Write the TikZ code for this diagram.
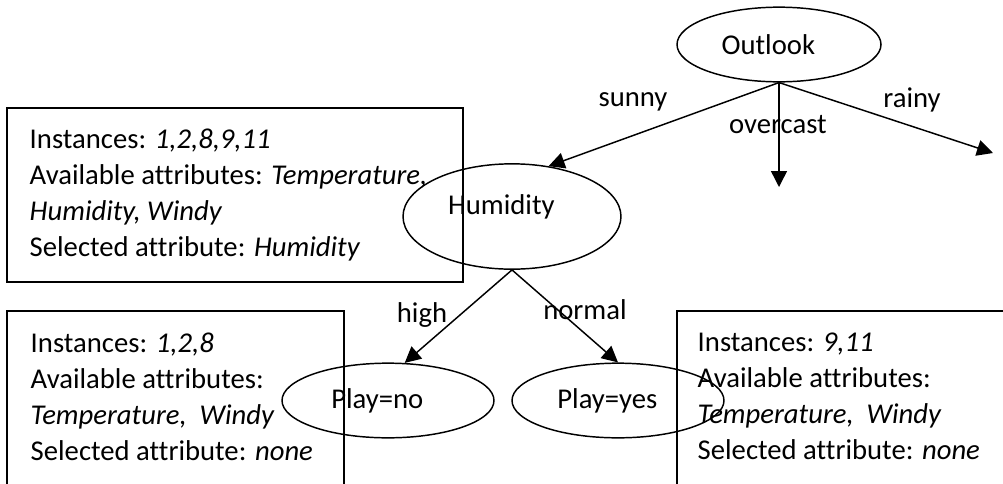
\documentclass[tikz,border=0pt]{standalone}
\usepackage{fontspec}
\setmainfont[Ligatures=NoCommon]{Carlito}
\usetikzlibrary{arrows.meta,shapes.geometric}

\tikzset{every picture/.style={line width=1.1pt},
  tree node/.style={draw,ellipse,inner sep=0pt,font=\fontsize{21.5}{27}\selectfont,
    execute at end node={\hspace*{16pt}}},
  info box/.style={line width=1.6pt},
  info text/.style={anchor=north west,inner sep=0pt,align=left,font=\fontsize{21.5}{27}\selectfont},
  branch/.style={-{Triangle[length=12pt,width=12pt]}},
  branch label/.style={inner sep=0pt,font=\fontsize{21.5}{27}\selectfont}}

\begin{document}
\begin{tikzpicture}[x=0.75pt,y=0.75pt,yscale=-1,xscale=1]
\clip (0,0) rectangle (1003,483);

%Boxes
\draw [info box] (7,108) rectangle (463,282);
\draw [info box] (7,311) rectangle (344,500);
\draw [info box] (677,311) rectangle (1010,500);

% Box texts
\node (txtroot) [info text] at (29,128) {Instances: \textit{1,2,8,9,11}\\Available attributes: \textit{Temperature,}\\\textit{Humidity, Windy}\\Selected attribute: \textit{Humidity}};
\node (txtno) [info text] at (30,332) {Instances: \textit{1,2,8}\\Available attributes:\\\textit{Temperature,\ \ Windy}\\Selected attribute: \textit{none}};
\node (txtyes) [info text] at (697,332) {Instances: \textit{9,11}\\Available attributes:\\\textit{Temperature,\ \ Windy}\\Selected attribute: \textit{none}};

% Ellipses
\node (outlook) [tree node,minimum width=153pt,minimum height=56pt] at (779,44.5) {Outlook};
\node (hum) [tree node,minimum width=163.5pt,minimum height=79pt,text depth=18pt] at (512,216.5) {Humidity};
\node (playno) [tree node,minimum width=159pt,minimum height=56pt] at (388,400.5) {Play=no};
\node (playyes) [tree node,minimum width=159pt,minimum height=56pt] at (618,400.5) {Play=yes};

\coordinate (overcastend) at (779,187);
\coordinate (rainyend) at (993,153);

% Branches
\draw [branch] (outlook.south) -- (hum.54);
\draw [branch] (outlook.south) -- (overcastend);
\draw [branch] (outlook.south) -- (rainyend);
\draw [branch] (hum.south) -- (playno.66);
\draw [branch] (hum.south) -- (playyes.north);

% Branch labels
\node (lsunny) [branch label] at (633,102) {sunny};
\node (lovercast) [branch label] at (778,125) {overcast};
\node (lrainy) [branch label] at (912,100) {rainy};
\node (lhigh) [branch label] at (422,315) {high};
\node (lnormal) [branch label] at (585,310) {normal};

\end{tikzpicture}
\end{document}
